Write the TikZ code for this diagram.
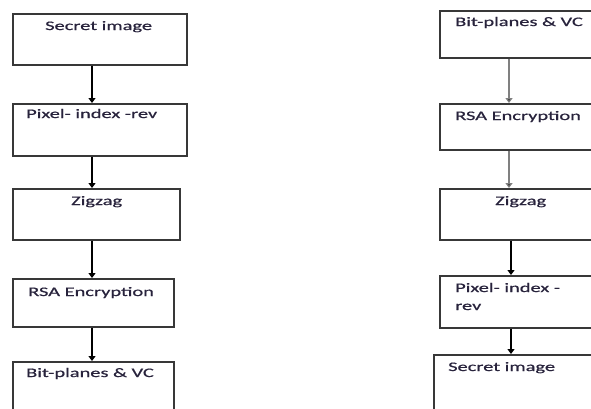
\documentclass[tikz,border=0pt]{standalone}
\usepackage{fontspec}
\usepackage{graphicx}
\setmainfont{Carlito}
\usetikzlibrary{arrows.meta}
\definecolor{txtcol}{RGB}{40,35,60}
\newcommand{\wtxt}[1]{\scalebox{1.57}[1]{\fontsize{13}{15}\selectfont\addfontfeature{FakeBold=0.6}#1}}
\tikzset{
  box/.style={draw=black!78, line width=1.6pt, rectangle, anchor=north west, inner sep=0pt},
  lbl/.style={anchor=base west, inner sep=0pt, text=txtcol},
  arr/.style={line width=1.2pt, -{Triangle[width=7pt,length=5pt]}},
  garr/.style={arr, line width=1.6pt, draw=black!50, -{Triangle[width=7pt,length=5pt,fill=black]}}
}
\begin{document}
\begin{tikzpicture}[x=1pt,y=-1pt]
\useasboundingbox (0,0) rectangle (591,408);
\clip (0,0) rectangle (591,408);
% left column
\node[box, minimum width=174pt, minimum height=51pt] (L1) at (12,13) {};
\node[box, minimum width=174pt, minimum height=52pt] (L2) at (12,103) {};
\node[box, minimum width=167pt, minimum height=51pt] (L3) at (12,188) {};
\node[box, minimum width=161pt, minimum height=48pt] (L4) at (12,278) {};
\node[box, minimum width=161pt, minimum height=70pt] (L5) at (12,361) {};
\node[lbl] (t1) at (45,30) {\wtxt{Secret image}};
\node[lbl] (t2) at (26,118) {\wtxt{Pixel- index -rev}};
\node[lbl] (t3) at (71,205) {\wtxt{Zigzag}};
\node[lbl] (t4) at (28,296) {\wtxt{RSA Encryption}};
\node[lbl] (t5) at (26,377) {\wtxt{Bit-planes \& VC}};
\coordinate (lx) at (92,0);
\draw[arr] (L1.south -| lx) -- (L2.north -| lx);
\draw[arr] (L2.south -| lx) -- (L3.north -| lx);
\draw[arr] (L3.south -| lx) -- (L4.north -| lx);
\draw[arr] (L4.south -| lx) -- (L5.north -| lx);
% right column
\node[box, minimum width=170pt, minimum height=47pt] (R1) at (439,10) {};
\node[box, minimum width=170pt, minimum height=46pt] (R2) at (439,103) {};
\node[box, minimum width=170pt, minimum height=51pt] (R3) at (439,188) {};
\node[box, minimum width=170pt, minimum height=52pt] (R4) at (439,275) {};
\node[box, minimum width=180pt, minimum height=70pt] (R5) at (433,354) {};
\node[lbl] (u1) at (455,26) {\wtxt{Bit-planes \& VC}};
\node[lbl] (u2) at (455,120) {\wtxt{RSA Encryption}};
\node[lbl] (u3) at (495,205) {\wtxt{Zigzag}};
\node[lbl] (u4) at (455,292) {\wtxt{Pixel- index -}};
\node[lbl] (u4b) at (455,310) {\wtxt{rev}};
\node[lbl] (u5) at (448,371) {\wtxt{Secret image}};
\coordinate (rx1) at (509,0);
\coordinate (rx2) at (511,0);
\draw[garr] (R1.south -| rx1) -- (R2.north -| rx1);
\draw[garr] (R2.south -| rx1) -- (R3.north -| rx1);
\draw[arr] (R3.south -| rx2) -- (R4.north -| rx2);
\draw[arr] (R4.south -| rx2) -- (R5.north -| rx2);
\end{tikzpicture}
\end{document}
